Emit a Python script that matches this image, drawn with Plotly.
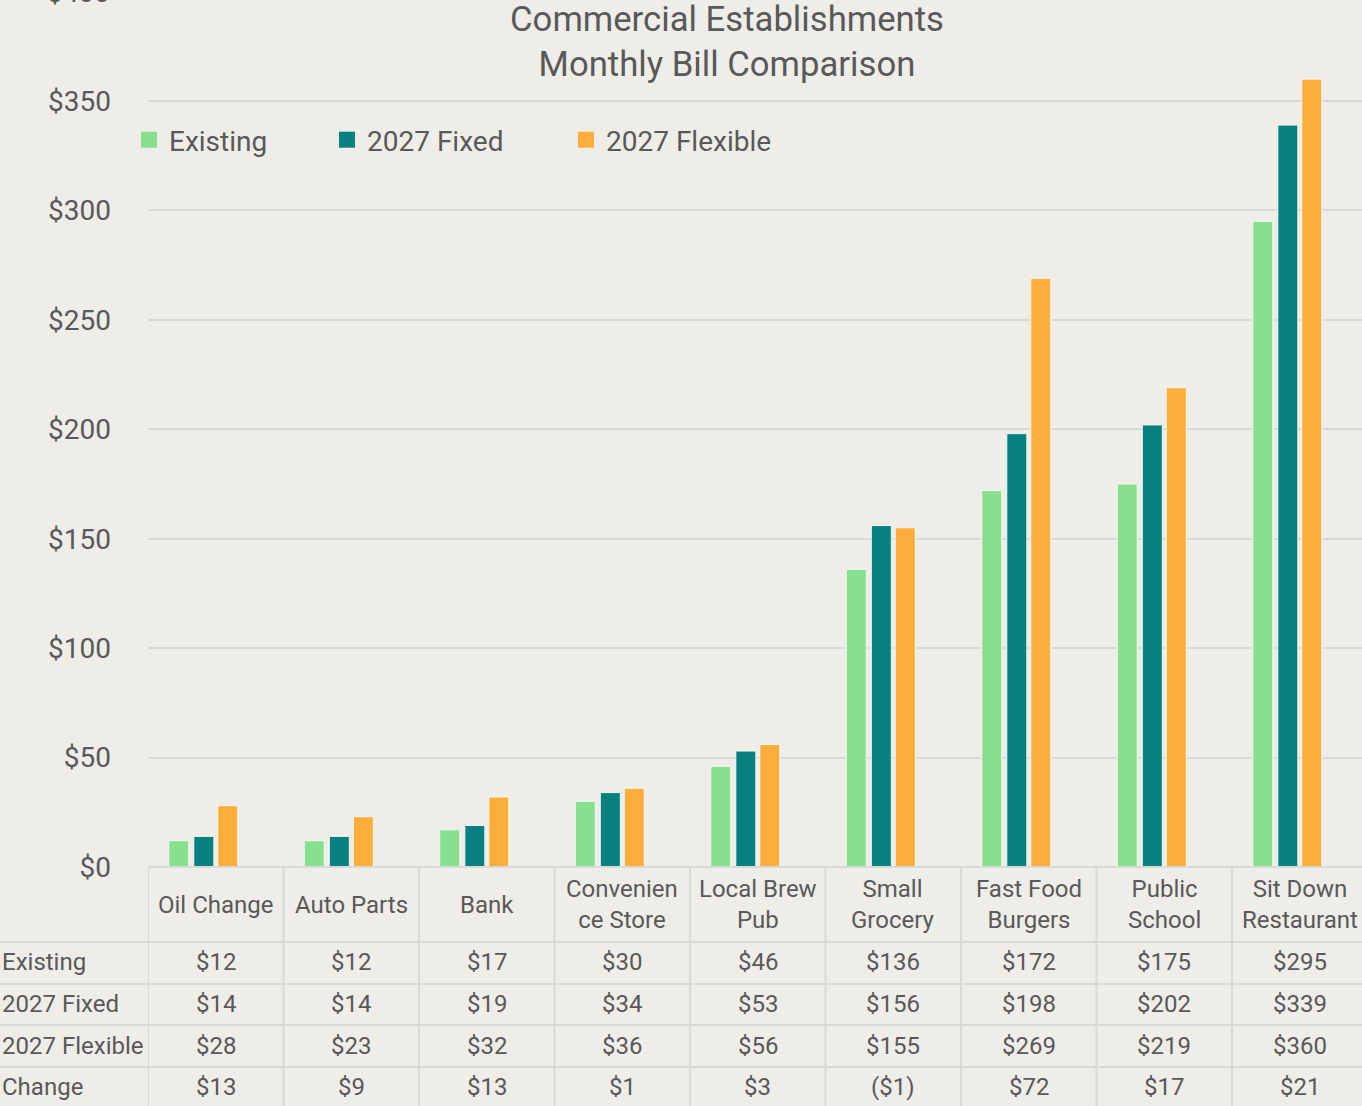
import plotly.graph_objects as go

# categories and the monthly bills per rate
categories = ["Oil Change", "Auto Parts", "Bank", "Convenience Store", "Local Brew Pub",
              "Small Grocery", "Fast Food Burgers", "Public School", "Sit Down Restaurant"]
header_labels = ["Oil Change", "Auto Parts", "Bank", "Convenien<br>ce Store", "Local Brew<br>Pub",
                 "Small<br>Grocery", "Fast Food<br>Burgers", "Public<br>School", "Sit Down<br>Restaurant"]
existing = [12, 12, 17, 30, 46, 136, 172, 175, 295]
fixed_2027 = [14, 14, 19, 34, 53, 156, 198, 202, 339]
flexible_2027 = [28, 23, 32, 36, 56, 155, 269, 219, 360]
change = [13, 9, 13, 1, 3, -1, 72, 17, 21]

series_names = ["Existing", "2027 Fixed", "2027 Flexible"]
y_ticks = [0, 50, 100, 150, 200, 250, 300, 350, 400]

BG = "#EFEDE8"
TXT = "#595959"
GRID = "#D9D9D9"
FONT = "Roboto"
colors = ["#86E08F", "#07807F", "#FBAE3C"]

W, H = 1362, 1106
L, B = 148, 239
PLOT_H = H - B
PLOT_W = W - L
CAT_W = 135.5


def py(p):
    # pixel row -> paper y
    return (PLOT_H - p) / PLOT_H


def px(p):
    # pixel column -> paper x
    return (p - L) / PLOT_W


def money(v):
    return f"(${abs(v)})" if v < 0 else f"${v}"


x_pos = list(range(len(categories)))
offsets = [-0.347, -0.162, 0.015]
legends = ["legend", "legend2", "legend3"]

fig = go.Figure()
for i, (name, vals) in enumerate(zip(series_names, [existing, fixed_2027, flexible_2027])):
    fig.add_trace(go.Bar(
        x=x_pos, y=vals, name=name,
        offset=offsets[i], width=0.148,
        marker=dict(color=colors[i], line=dict(color="#F8F7F3", width=1)),
        showlegend=False, hovertext=categories,
    ))
    # legend entry with a bigger square swatch
    fig.add_trace(go.Scatter(
        x=[None], y=[None], mode="markers", name=name, legend=legends[i],
        marker=dict(symbol="square", size=17, color=colors[i]),
    ))

# data table under the chart
rows = [("Existing", existing), ("2027 Fixed", fixed_2027),
        ("2027 Flexible", flexible_2027), ("Change", change)]
row_centers = [962, 1004, 1045.5, 1087]
row_lines = [942, 984, 1025, 1067]

TFONT = dict(size=24, color=TXT, family=FONT)
ann = []
for i, lab in enumerate(header_labels):
    ann.append(dict(x=i, y=py(904.5), xref="x", yref="paper", text=lab, showarrow=False,
                    xanchor="center", yanchor="middle", font=TFONT))
for (label, vals), yc in zip(rows, row_centers):
    ann.append(dict(x=px(0), y=py(yc), xref="paper", yref="paper", text=label, showarrow=False,
                    xanchor="left", yanchor="middle", font=TFONT))
    for i, v in enumerate(vals):
        ann.append(dict(x=i, y=py(yc), xref="x", yref="paper", text=money(v), showarrow=False,
                        xanchor="center", yanchor="middle", font=TFONT))

# top axis label cut off at the edge
ann.append(dict(x=px(112), y=py(-8), xref="paper", yref="paper", text="$400", showarrow=False,
                xanchor="right", yanchor="middle", font=dict(size=28, color=TXT, family=FONT)))

shapes = [dict(type="line", xref="paper", yref="paper", x0=0, x1=1, y0=py(867), y1=py(867),
               line=dict(color=GRID, width=2))]
for yl in row_lines:
    shapes.append(dict(type="line", xref="paper", yref="paper", x0=px(0), x1=1, y0=py(yl), y1=py(yl),
                       line=dict(color=GRID, width=2)))
for i in range(len(categories) + 1):
    shapes.append(dict(type="line", xref="x", yref="paper", x0=i - 0.5, x1=i - 0.5,
                       y0=py(867), y1=py(H), line=dict(color=GRID, width=2)))

legend_style = dict(orientation="h", xanchor="left", yanchor="middle", y=py(140),
                    bgcolor="rgba(0,0,0,0)", itemsizing="trace",
                    font=dict(size=28, color=TXT, family=FONT))

fig.update_layout(
    width=W, height=H,
    margin=dict(l=L, r=0, t=0, b=B),
    paper_bgcolor=BG, plot_bgcolor=BG,
    barmode="overlay",
    title=dict(text="Commercial Establishments<br>Monthly Bill Comparison",
               x=727 / W, xref="container", xanchor="center",
               y=1 - 31 / H, yref="container", yanchor="middle",
               font=dict(size=34.7, color=TXT, family=FONT)),
    xaxis=dict(range=[-0.5, -0.5 + PLOT_W / CAT_W], showticklabels=False,
               showgrid=False, zeroline=False, showline=False),
    yaxis=dict(range=[0, PLOT_H / (766 / 350)], tickvals=y_ticks,
               ticktext=[f"${v}" for v in y_ticks],
               showgrid=True, gridcolor=GRID, gridwidth=1.5, zeroline=False, showline=False,
               ticklabelstandoff=36, tickfont=dict(size=28, color=TXT, family=FONT)),
    legend=dict(x=px(129), **legend_style),
    legend2=dict(x=px(327), **legend_style),
    legend3=dict(x=px(566), **legend_style),
    annotations=ann,
    shapes=shapes,
)

fig.write_html("out.html", config={"displayModeBar": False},
               post_script="document.body.style.margin='0';")
